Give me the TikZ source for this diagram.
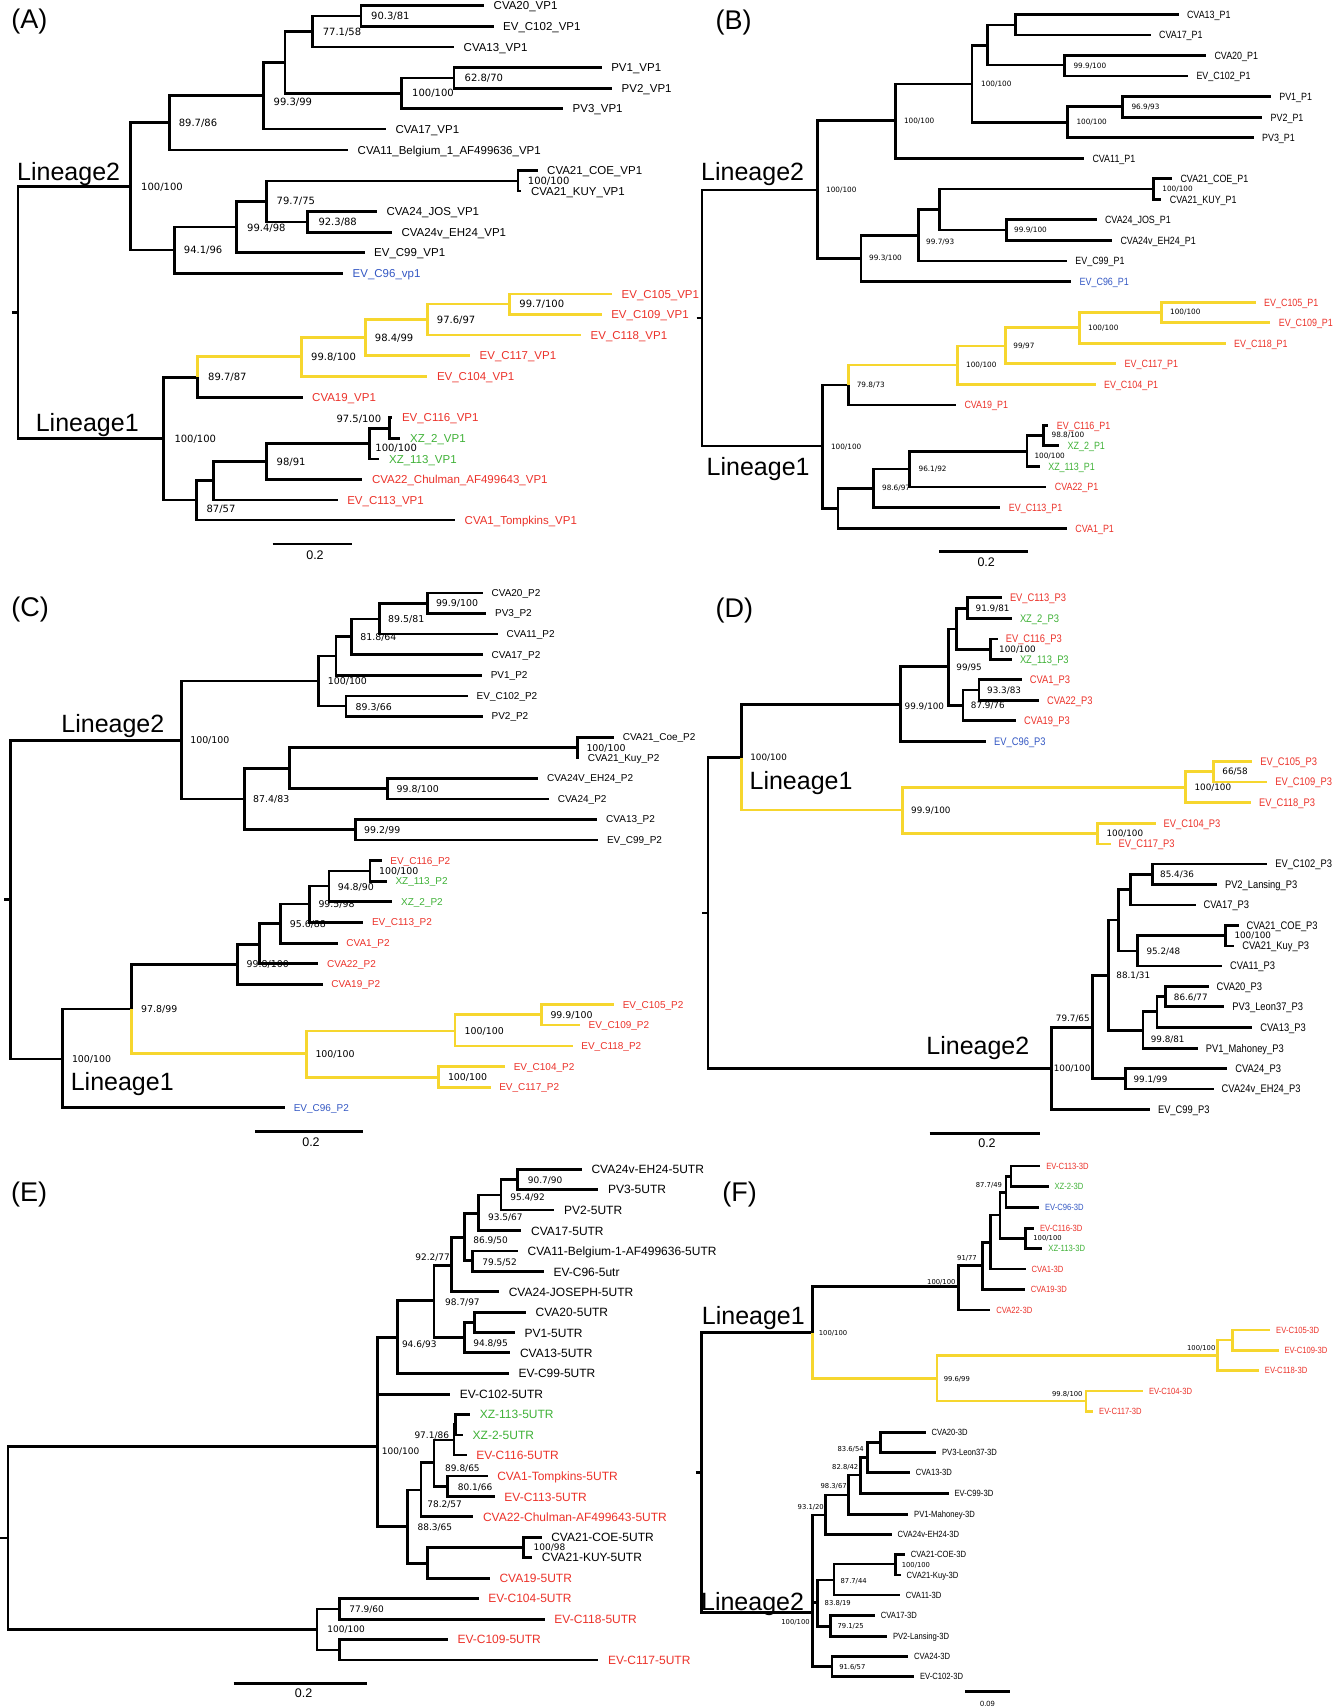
\documentclass[tikz,border=0pt]{standalone}
\usepackage{fontspec}
\setmainfont{Liberation Sans}
\newfontfamily\condfont[FakeStretch=0.85]{Liberation Sans}
\newfontfamily\bootfont{DejaVu Sans}

\definecolor{labred}{RGB}{236,50,42}
\definecolor{labgreen}{RGB}{64,178,56}
\definecolor{labblue}{RGB}{52,88,196}
\definecolor{cladeyellow}{RGB}{246,214,46}

\tikzset{
  br/.style={line width=2.7pt},
  ybr/.style={line width=2.7pt, draw=cladeyellow},
  tip/.style={anchor=west, inner ysep=0pt, text depth=0pt},
  bs/.style={anchor=west, inner sep=0pt, text depth=0pt},
  tipA/.style={tip, inner xsep=9.5pt, text height=8.2pt, font=\fontsize{11.5}{12}\selectfont},
  tipB/.style={tip, inner xsep=8.3pt, text height=7.5pt, font=\condfont\fontsize{10.5}{11}\selectfont},
  tipC/.style={tip, inner xsep=8.6pt, text height=7.2pt, font=\fontsize{10}{11}\selectfont},
  tipD/.style={tip, inner xsep=7.8pt, text height=7.9pt, font=\condfont\fontsize{11}{12}\selectfont},
  tipE/.style={tip, inner xsep=9.6pt, text height=8.6pt, font=\fontsize{12}{13}\selectfont},
  tipF/.style={tip, inner xsep=5.8pt, text height=6.4pt, font=\condfont\fontsize{9}{10}\selectfont},
  bsA/.style={bs, text height=7.3pt, font=\bootfont\fontsize{10}{11}\selectfont},
  bsB/.style={bs, text height=5.3pt, font=\bootfont\fontsize{7.3}{8}\selectfont},
  bsC/.style={bs, text height=6.9pt, font=\bootfont\fontsize{9.4}{10}\selectfont},
  bsD/.style={bs, text height=6.4pt, font=\bootfont\fontsize{8.8}{9}\selectfont},
  bsE/.style={bs, text height=6.6pt, font=\bootfont\fontsize{9}{10}\selectfont},
  bsF/.style={bs, text height=5pt, font=\bootfont\fontsize{6.8}{7}\selectfont},
  redlab/.style={text=labred},
  greenlab/.style={text=labgreen},
  bluelab/.style={text=labblue},
  lineage/.style={anchor=base west, inner sep=0pt, font=\fontsize{25}{26}\selectfont},
  paneltag/.style={anchor=base west, inner sep=0pt, font=\fontsize{27}{28}\selectfont},
  scalelab/.style={inner sep=0pt, text height=9pt, text depth=0pt, font=\fontsize{12.5}{13}\selectfont},
  scalebar/.style={line width=2.7pt}
}

\begin{document}
\begin{tikzpicture}[x=1pt, y=-1pt]
  \path[use as bounding box, fill=white] (0,0) rectangle (1333,1708);

  % ================= (A) VP1 =================
  \node[paneltag] (a-tag) at (11.3,28.3) {(A)};
  \node[lineage] (a-lin2) at (17,180) {Lineage2};
  \node[lineage] (a-lin1) at (35.6,431.7) {Lineage1};

  \coordinate (a-stub) at (12,312.7);
  \coordinate (a-root) at (18,312.7);
  \coordinate (a-l2) at (130.3,186.7);
  \coordinate (a-n1) at (169.6,122.7);
  \coordinate (a-n2) at (263.6,95.7);
  \coordinate (a-n3) at (285,62.3);
  \coordinate (a-n4) at (312.8,31.7);
  \coordinate (a-n5) at (361,16);
  \coordinate (a-n6) at (401.7,93.3);
  \coordinate (a-n7) at (454,78);
  \coordinate (a-n8) at (174.3,250);
  \coordinate (a-n9) at (236.7,227);
  \coordinate (a-n10) at (266.2,201.3);
  \coordinate (a-n11) at (518,181);
  \coordinate (a-n12) at (307.7,222);
  \coordinate (a-l1) at (163.7,438.7);
  \coordinate (a-n13) at (197.8,377.3);
  \coordinate (a-y1) at (301.2,356.7);
  \coordinate (a-y2) at (365.3,337.3);
  \coordinate (a-y3) at (427.3,319.3);
  \coordinate (a-y4) at (509.3,304);
  \coordinate (a-n17) at (196.6,500);
  \coordinate (a-n18) at (213.7,480.3);
  \coordinate (a-n19) at (266.6,461.7);
  \coordinate (a-n20) at (369.6,443.3);
  \coordinate (a-n21) at (389.7,428.3);

  \node[tipA] (a-cva20) at (484,5.7) {CVA20\_VP1};
  \node[tipA] (a-c102) at (493.5,26.3) {EV\_C102\_VP1};
  \node[tipA] (a-cva13) at (454,47) {CVA13\_VP1};
  \node[tipA] (a-pv1) at (601.6,67.7) {PV1\_VP1};
  \node[tipA] (a-pv2) at (612,88.3) {PV2\_VP1};
  \node[tipA] (a-pv3) at (563,108.3) {PV3\_VP1};
  \node[tipA] (a-cva17) at (385.8,129) {CVA17\_VP1};
  \node[tipA] (a-cva11) at (348,150) {CVA11\_Belgium\_1\_AF499636\_VP1};
  \node[tipA] (a-coe) at (537.5,170.7) {CVA21\_COE\_VP1};
  \node[tipA] (a-kuy) at (521.3,191) {CVA21\_KUY\_VP1};
  \node[tipA] (a-jos) at (376.9,211.7) {CVA24\_JOS\_VP1};
  \node[tipA] (a-eh24) at (391.8,232.3) {CVA24v\_EH24\_VP1};
  \node[tipA] (a-c99) at (364.5,252.7) {EV\_C99\_VP1};
  \node[tipA, bluelab] (a-c96) at (343,273.3) {EV\_C96\_vp1};
  \node[tipA, redlab] (a-c105) at (612,294) {EV\_C105\_VP1};
  \node[tipA, redlab] (a-c109) at (601.6,314.3) {EV\_C109\_VP1};
  \node[tipA, redlab] (a-c118) at (581,335) {EV\_C118\_VP1};
  \node[tipA, redlab] (a-c117) at (470,355.7) {EV\_C117\_VP1};
  \node[tipA, redlab] (a-c104) at (427.3,376.3) {EV\_C104\_VP1};
  \node[tipA, redlab] (a-cva19) at (302.5,397.3) {CVA19\_VP1};
  \node[tipA, redlab] (a-c116) at (392.3,417.3) {EV\_C116\_VP1};
  \node[tipA, greenlab] (a-xz2) at (400.4,438.3) {XZ\_2\_VP1};
  \node[tipA, greenlab] (a-xz113) at (379.4,459) {XZ\_113\_VP1};
  \node[tipA, redlab] (a-cva22) at (362.3,479.3) {CVA22\_Chulman\_AF499643\_VP1};
  \node[tipA, redlab] (a-c113) at (337.6,500) {EV\_C113\_VP1};
  \node[tipA, redlab] (a-cva1) at (455,520) {CVA1\_Tompkins\_VP1};

  \draw[br] (a-stub) -- (a-root);
  \draw[br] (a-root) |- (a-l2);
  \draw[br] (a-root) |- (a-l1);
  \draw[br] (a-l2) |- (a-n1);
  \draw[br] (a-l2) |- (a-n8);
  \draw[br] (a-n1) |- (a-n2);
  \draw[br] (a-n1) |- (a-cva11.west);
  \draw[br] (a-n2) |- (a-n3);
  \draw[br] (a-n2) |- (a-cva17.west);
  \draw[br] (a-n3) |- (a-n4);
  \draw[br] (a-n3) |- (a-n6);
  \draw[br] (a-n4) |- (a-n5);
  \draw[br] (a-n4) |- (a-cva13.west);
  \draw[br] (a-n5) |- (a-cva20.west);
  \draw[br] (a-n5) |- (a-c102.west);
  \draw[br] (a-n6) |- (a-n7);
  \draw[br] (a-n6) |- (a-pv3.west);
  \draw[br] (a-n7) |- (a-pv1.west);
  \draw[br] (a-n7) |- (a-pv2.west);
  \draw[br] (a-n8) |- (a-n9);
  \draw[br] (a-n8) |- (a-c96.west);
  \draw[br] (a-n9) |- (a-n10);
  \draw[br] (a-n9) |- (a-c99.west);
  \draw[br] (a-n10) |- (a-n11);
  \draw[br] (a-n10) |- (a-n12);
  \draw[br] (a-n11) |- (a-coe.west);
  \draw[br] (a-n11) |- (a-kuy.west);
  \draw[br] (a-n12) |- (a-jos.west);
  \draw[br] (a-n12) |- (a-eh24.west);
  \draw[br] (a-l1) |- (a-n13);
  \draw[br] (a-l1) |- (a-n17);
  \draw[ybr] (a-n13) |- (a-y1);
  \draw[br] (a-n13) |- (a-cva19.west);
  \draw[ybr] (a-y1) |- (a-y2);
  \draw[ybr] (a-y1) |- (a-c104.west);
  \draw[ybr] (a-y2) |- (a-y3);
  \draw[ybr] (a-y2) |- (a-c117.west);
  \draw[ybr] (a-y3) |- (a-y4);
  \draw[ybr] (a-y3) |- (a-c118.west);
  \draw[ybr] (a-y4) |- (a-c105.west);
  \draw[ybr] (a-y4) |- (a-c109.west);
  \draw[br] (a-n17) |- (a-n18);
  \draw[br] (a-n17) |- (a-cva1.west);
  \draw[br] (a-n18) |- (a-n19);
  \draw[br] (a-n18) |- (a-c113.west);
  \draw[br] (a-n19) |- (a-n20);
  \draw[br] (a-n19) |- (a-cva22.west);
  \draw[br] (a-n20) |- (a-n21);
  \draw[br] (a-n20) |- (a-xz113.west);
  \draw[br] (a-n21) |- (a-c116.west);
  \draw[br] (a-n21) |- (a-xz2.west);

  \node[bsA] (a-b1) at (371,16) {90.3/81};
  \node[bsA] (a-b2) at (322.6,31.7) {77.1/58};
  \node[bsA] (a-b3) at (464.5,78) {62.8/70};
  \node[bsA] (a-b4) at (412,93.3) {100/100};
  \node[bsA] (a-b5) at (273.5,102.3) {99.3/99};
  \node[bsA] (a-b6) at (178.6,123.3) {89.7/86};
  \node[bsA] (a-b7) at (141,186.7) {100/100};
  \node[bsA] (a-b8) at (527.7,181) {100/100};
  \node[bsA] (a-b9) at (276.5,201.3) {79.7/75};
  \node[bsA] (a-b10) at (318.3,222) {92.3/88};
  \node[bsA] (a-b11) at (247,227.7) {99.4/98};
  \node[bsA] (a-b12) at (183.7,250) {94.1/96};
  \node[bsA] (a-b13) at (519.2,304) {99.7/100};
  \node[bsA] (a-b14) at (436.7,320) {97.6/97};
  \node[bsA] (a-b15) at (374.7,338) {98.4/99};
  \node[bsA] (a-b16) at (311,357.3) {99.8/100};
  \node[bsA] (a-b17) at (208,377.3) {89.7/87};
  \node[bsA] (a-b18) at (336.3,419.3) {97.5/100};
  \node[bsA] (a-b19) at (174.3,439) {100/100};
  \node[bsA] (a-b20) at (375.2,447.7) {100/100};
  \node[bsA] (a-b21) at (276.5,461.7) {98/91};
  \node[bsA] (a-b22) at (206.4,509.3) {87/57};

  \coordinate (a-sc1) at (272.6,544);
  \coordinate (a-sc2) at (351.7,544);
  \draw[scalebar] (a-sc1) -- (a-sc2);
  \node[scalelab] (a-sclab) at (315,554.7) {0.2};

  % ================= (B) P1 =================
  \node[paneltag] (b-tag) at (715.5,29.3) {(B)};
  \node[lineage] (b-lin2) at (701,180.7) {Lineage2};
  \node[lineage] (b-lin1) at (706.5,475) {Lineage1};

  \coordinate (b-stub) at (696.5,318);
  \coordinate (b-root) at (702,318);
  \coordinate (b-l2) at (817.5,190);
  \coordinate (b-n1) at (895.2,120.7);
  \coordinate (b-n2) at (972,84);
  \coordinate (b-n3) at (987.5,45.7);
  \coordinate (b-n4) at (1015.4,25);
  \coordinate (b-n4b) at (1064.7,65);
  \coordinate (b-n5) at (1067.7,122.3);
  \coordinate (b-n6) at (1122.7,106.7);
  \coordinate (b-n7) at (860.9,258.3);
  \coordinate (b-n8) at (918.4,235.3);
  \coordinate (b-n9) at (939.4,209.3);
  \coordinate (b-n10) at (1153.6,189);
  \coordinate (b-n11) at (1006.4,230);
  \coordinate (b-l1) at (822.2,446);
  \coordinate (b-n12) at (848.8,385);
  \coordinate (b-y1) at (957.4,365);
  \coordinate (b-y2) at (1005.5,346);
  \coordinate (b-y3) at (1079.3,327.7);
  \coordinate (b-y4) at (1161.3,312.3);
  \coordinate (b-n17) at (838.1,508.7);
  \coordinate (b-n18) at (873.3,488.3);
  \coordinate (b-n19) at (909.8,469);
  \coordinate (b-n20) at (1027,451.3);
  \coordinate (b-n21) at (1043.3,435.3);

  \node[tipB] (b-cva13) at (1178.5,14.3) {CVA13\_P1};
  \node[tipB] (b-cva17) at (1150.6,35) {CVA17\_P1};
  \node[tipB] (b-cva20) at (1206,55.7) {CVA20\_P1};
  \node[tipB] (b-c102) at (1188,76) {EV\_C102\_P1};
  \node[tipB] (b-pv1) at (1270.8,96.7) {PV1\_P1};
  \node[tipB] (b-pv2) at (1262.2,117.3) {PV2\_P1};
  \node[tipB] (b-pv3) at (1253.6,137.7) {PV3\_P1};
  \node[tipB] (b-cva11) at (1084,158.3) {CVA11\_P1};
  \node[tipB] (b-coe) at (1172,178.7) {CVA21\_COE\_P1};
  \node[tipB] (b-kuy) at (1161.3,199.3) {CVA21\_KUY\_P1};
  \node[tipB] (b-jos) at (1096.5,219.7) {CVA24\_JOS\_P1};
  \node[tipB] (b-eh24) at (1112,240.3) {CVA24v\_EH24\_P1};
  \node[tipB] (b-c99) at (1066.9,261) {EV\_C99\_P1};
  \node[tipB, bluelab] (b-c96) at (1071.2,281.7) {EV\_C96\_P1};
  \node[tipB, redlab] (b-c105) at (1255.7,302.3) {EV\_C105\_P1};
  \node[tipB, redlab] (b-c109) at (1270.3,322.7) {EV\_C109\_P1};
  \node[tipB, redlab] (b-c118) at (1225.7,343.3) {EV\_C118\_P1};
  \node[tipB, redlab] (b-c117) at (1116.2,363.7) {EV\_C117\_P1};
  \node[tipB, redlab] (b-c104) at (1095.6,384.3) {EV\_C104\_P1};
  \node[tipB, redlab] (b-cva19) at (956,405) {CVA19\_P1};
  \node[tipB, redlab] (b-c116) at (1048.4,425.3) {EV\_C116\_P1};
  \node[tipB, greenlab] (b-xz2) at (1059.2,445.7) {XZ\_2\_P1};
  \node[tipB, greenlab] (b-xz113) at (1039.8,466.7) {XZ\_113\_P1};
  \node[tipB, redlab] (b-cva22) at (1046.3,487) {CVA22\_P1};
  \node[tipB, redlab] (b-c113) at (1000.4,507.7) {EV\_C113\_P1};
  \node[tipB, redlab] (b-cva1) at (1066.9,528.3) {CVA1\_P1};

  \draw[br] (b-stub) -- (b-root);
  \draw[br] (b-root) |- (b-l2);
  \draw[br] (b-root) |- (b-l1);
  \draw[br] (b-l2) |- (b-n1);
  \draw[br] (b-l2) |- (b-n7);
  \draw[br] (b-n1) |- (b-n2);
  \draw[br] (b-n1) |- (b-cva11.west);
  \draw[br] (b-n2) |- (b-n3);
  \draw[br] (b-n2) |- (b-n5);
  \draw[br] (b-n3) |- (b-n4);
  \draw[br] (b-n3) |- (b-n4b);
  \draw[br] (b-n4) |- (b-cva13.west);
  \draw[br] (b-n4) |- (b-cva17.west);
  \draw[br] (b-n4b) |- (b-cva20.west);
  \draw[br] (b-n4b) |- (b-c102.west);
  \draw[br] (b-n5) |- (b-n6);
  \draw[br] (b-n5) |- (b-pv3.west);
  \draw[br] (b-n6) |- (b-pv1.west);
  \draw[br] (b-n6) |- (b-pv2.west);
  \draw[br] (b-n7) |- (b-n8);
  \draw[br] (b-n7) |- (b-c96.west);
  \draw[br] (b-n8) |- (b-n9);
  \draw[br] (b-n8) |- (b-c99.west);
  \draw[br] (b-n9) |- (b-n10);
  \draw[br] (b-n9) |- (b-n11);
  \draw[br] (b-n10) |- (b-coe.west);
  \draw[br] (b-n10) |- (b-kuy.west);
  \draw[br] (b-n11) |- (b-jos.west);
  \draw[br] (b-n11) |- (b-eh24.west);
  \draw[br] (b-l1) |- (b-n12);
  \draw[br] (b-l1) |- (b-n17);
  \draw[ybr] (b-n12) |- (b-y1);
  \draw[br] (b-n12) |- (b-cva19.west);
  \draw[ybr] (b-y1) |- (b-y2);
  \draw[ybr] (b-y1) |- (b-c104.west);
  \draw[ybr] (b-y2) |- (b-y3);
  \draw[ybr] (b-y2) |- (b-c117.west);
  \draw[ybr] (b-y3) |- (b-y4);
  \draw[ybr] (b-y3) |- (b-c118.west);
  \draw[ybr] (b-y4) |- (b-c105.west);
  \draw[ybr] (b-y4) |- (b-c109.west);
  \draw[br] (b-n17) |- (b-n18);
  \draw[br] (b-n17) |- (b-cva1.west);
  \draw[br] (b-n18) |- (b-n19);
  \draw[br] (b-n18) |- (b-c113.west);
  \draw[br] (b-n19) |- (b-n20);
  \draw[br] (b-n19) |- (b-cva22.west);
  \draw[br] (b-n20) |- (b-n21);
  \draw[br] (b-n20) |- (b-xz113.west);
  \draw[br] (b-n21) |- (b-c116.west);
  \draw[br] (b-n21) |- (b-xz2.west);

  \node[bsB] (b-b1) at (826,190) {100/100};
  \node[bsB] (b-b2) at (903.8,121) {100/100};
  \node[bsB] (b-b3) at (981,84) {100/100};
  \node[bsB] (b-b4) at (1073.3,65.7) {99.9/100};
  \node[bsB] (b-b5) at (1076.3,122.3) {100/100};
  \node[bsB] (b-b6) at (1131.3,106.7) {96.9/93};
  \node[bsB] (b-b7) at (869,258.3) {99.3/100};
  \node[bsB] (b-b8) at (926,241.7) {99.7/93};
  \node[bsB] (b-b9) at (1162.2,189) {100/100};
  \node[bsB] (b-b10) at (1014,230) {99.9/100};
  \node[bsB] (b-b11) at (830.8,446.7) {100/100};
  \node[bsB] (b-b12) at (856.6,385) {79.8/73};
  \node[bsB] (b-b13) at (966,365) {100/100};
  \node[bsB] (b-b14) at (1013.2,346) {99/97};
  \node[bsB] (b-b15) at (1088,327.7) {100/100};
  \node[bsB] (b-b16) at (1169.9,312.3) {100/100};
  \node[bsB] (b-b17) at (881.9,488.3) {98.6/97};
  \node[bsB] (b-b18) at (918.4,469) {96.1/92};
  \node[bsB] (b-b19) at (1034.3,455.7) {100/100};
  \node[bsB] (b-b20) at (1051.4,435.3) {98.8/100};

  \coordinate (b-sc1) at (939,551.7);
  \coordinate (b-sc2) at (1028.3,551.7);
  \draw[scalebar] (b-sc1) -- (b-sc2);
  \node[scalelab] (b-sclab) at (986.2,562.3) {0.2};

  % ================= (C) P2 =================
  \node[paneltag] (c-tag) at (11.3,616.7) {(C)};
  \node[lineage] (c-lin2) at (61.2,732.3) {Lineage2};
  \node[lineage] (c-lin1) at (70.6,1090.7) {Lineage1};

  \coordinate (c-stub) at (4.3,899.7);
  \coordinate (c-root) at (10.7,899.7);
  \coordinate (c-l2) at (181.6,740.3);
  \coordinate (c-n1) at (318.3,681);
  \coordinate (c-n2) at (335.9,656);
  \coordinate (c-n3) at (351.7,636.7);
  \coordinate (c-n4) at (379.4,619);
  \coordinate (c-n5) at (427.3,603.3);
  \coordinate (c-n6) at (346.1,706);
  \coordinate (c-n7) at (244.4,799);
  \coordinate (c-n8) at (289.3,768.3);
  \coordinate (c-n9) at (577.7,747.7);
  \coordinate (c-n10) at (387.6,788.7);
  \coordinate (c-n11) at (355.5,829.7);
  \coordinate (c-l1) at (62.8,1059);
  \coordinate (c-n12) at (131.6,1009);
  \coordinate (c-n13) at (237.6,964.3);
  \coordinate (c-n14) at (259.8,944.3);
  \coordinate (c-n15) at (280.7,923.7);
  \coordinate (c-n16) at (309.8,904);
  \coordinate (c-n17) at (329,886);
  \coordinate (c-n18) at (370,871);
  \coordinate (c-y1) at (306.4,1053.3);
  \coordinate (c-y2) at (455,1031);
  \coordinate (c-y3) at (541.8,1014.7);
  \coordinate (c-y4) at (438.8,1077.3);

  \node[tipC] (c-cva20) at (482.8,593) {CVA20\_P2};
  \node[tipC] (c-pv3) at (486.3,613.3) {PV3\_P2};
  \node[tipC] (c-cva11) at (497.8,634) {CVA11\_P2};
  \node[tipC] (c-cva17) at (482.8,654.7) {CVA17\_P2};
  \node[tipC] (c-pv1) at (482,675.3) {PV1\_P2};
  \node[tipC] (c-c102) at (467.9,696) {EV\_C102\_P2};
  \node[tipC] (c-pv2) at (482.8,716.3) {PV2\_P2};
  \node[tipC] (c-coe) at (614,737.3) {CVA21\_Coe\_P2};
  \node[tipC] (c-kuy) at (579,757.7) {CVA21\_Kuy\_P2};
  \node[tipC] (c-eh24) at (538.4,778.3) {CVA24V\_EH24\_P2};
  \node[tipC] (c-cva24) at (549,799) {CVA24\_P2};
  \node[tipC] (c-cva13) at (597.4,819.3) {CVA13\_P2};
  \node[tipC] (c-c99) at (598.2,840) {EV\_C99\_P2};
  \node[tipC, redlab] (c-c116) at (381.6,860.7) {EV\_C116\_P2};
  \node[tipC, greenlab] (c-xz113) at (386.7,881.3) {XZ\_113\_P2};
  \node[tipC, greenlab] (c-xz2) at (392.3,901.7) {XZ\_2\_P2};
  \node[tipC, redlab] (c-c113) at (363.2,922.3) {EV\_C113\_P2};
  \node[tipC, redlab] (c-cva1) at (337.6,943.3) {CVA1\_P2};
  \node[tipC, redlab] (c-cva22) at (318.3,963.7) {CVA22\_P2};
  \node[tipC, redlab] (c-cva19) at (322.6,984.3) {CVA19\_P2};
  \node[tipC, redlab] (c-c105) at (614,1004.7) {EV\_C105\_P2};
  \node[tipC, redlab] (c-c109) at (579.8,1025) {EV\_C109\_P2};
  \node[tipC, redlab] (c-c118) at (572.6,1046) {EV\_C118\_P2};
  \node[tipC, redlab] (c-c104) at (505,1066.7) {EV\_C104\_P2};
  \node[tipC, redlab] (c-c117) at (490.5,1087.3) {EV\_C117\_P2};
  \node[tipC, bluelab] (c-c96) at (285,1107.7) {EV\_C96\_P2};

  \draw[br] (c-stub) -- (c-root);
  \draw[br] (c-root) |- (c-l2);
  \draw[br] (c-root) |- (c-l1);
  \draw[br] (c-l2) |- (c-n1);
  \draw[br] (c-l2) |- (c-n7);
  \draw[br] (c-n1) |- (c-n2);
  \draw[br] (c-n1) |- (c-n6);
  \draw[br] (c-n2) |- (c-n3);
  \draw[br] (c-n2) |- (c-pv1.west);
  \draw[br] (c-n3) |- (c-n4);
  \draw[br] (c-n3) |- (c-cva17.west);
  \draw[br] (c-n4) |- (c-n5);
  \draw[br] (c-n4) |- (c-cva11.west);
  \draw[br] (c-n5) |- (c-cva20.west);
  \draw[br] (c-n5) |- (c-pv3.west);
  \draw[br] (c-n6) |- (c-c102.west);
  \draw[br] (c-n6) |- (c-pv2.west);
  \draw[br] (c-n7) |- (c-n8);
  \draw[br] (c-n7) |- (c-n11);
  \draw[br] (c-n8) |- (c-n9);
  \draw[br] (c-n8) |- (c-n10);
  \draw[br] (c-n9) |- (c-coe.west);
  \draw[br] (c-n9) |- (c-kuy.west);
  \draw[br] (c-n10) |- (c-eh24.west);
  \draw[br] (c-n10) |- (c-cva24.west);
  \draw[br] (c-n11) |- (c-cva13.west);
  \draw[br] (c-n11) |- (c-c99.west);
  \draw[br] (c-l1) |- (c-n12);
  \draw[br] (c-l1) |- (c-c96.west);
  \draw[br] (c-n12) |- (c-n13);
  \draw[ybr] (c-n12) |- (c-y1);
  \draw[br] (c-n13) |- (c-n14);
  \draw[br] (c-n13) |- (c-cva19.west);
  \draw[br] (c-n14) |- (c-n15);
  \draw[br] (c-n14) |- (c-cva22.west);
  \draw[br] (c-n15) |- (c-n16);
  \draw[br] (c-n15) |- (c-cva1.west);
  \draw[br] (c-n16) |- (c-n17);
  \draw[br] (c-n16) |- (c-c113.west);
  \draw[br] (c-n17) |- (c-n18);
  \draw[br] (c-n17) |- (c-xz2.west);
  \draw[br] (c-n18) |- (c-c116.west);
  \draw[br] (c-n18) |- (c-xz113.west);
  \draw[ybr] (c-y1) |- (c-y2);
  \draw[ybr] (c-y1) |- (c-y4);
  \draw[ybr] (c-y2) |- (c-y3);
  \draw[ybr] (c-y2) |- (c-c118.west);
  \draw[ybr] (c-y3) |- (c-c105.west);
  \draw[ybr] (c-y3) |- (c-c109.west);
  \draw[ybr] (c-y4) |- (c-c104.west);
  \draw[ybr] (c-y4) |- (c-c117.west);

  \node[bsC] (c-b1) at (190.1,740.3) {100/100};
  \node[bsC] (c-b2) at (327.7,681.3) {100/100};
  \node[bsC] (c-b3) at (360.2,637.3) {81.8/64};
  \node[bsC] (c-b4) at (388,619) {89.5/81};
  \node[bsC] (c-b5) at (435.8,603.3) {99.9/100};
  \node[bsC] (c-b6) at (355.5,706.7) {89.3/66};
  \node[bsC] (c-b7) at (253,799.3) {87.4/83};
  \node[bsC] (c-b8) at (586.3,747.7) {100/100};
  \node[bsC] (c-b9) at (396.5,789) {99.8/100};
  \node[bsC] (c-b10) at (364,830) {99.2/99};
  \node[bsC] (c-b11) at (71.8,1059) {100/100};
  \node[bsC] (c-b12) at (141,1009.3) {97.8/99};
  \node[bsC] (c-b13) at (246.5,964.3) {99.8/100};
  \node[bsC] (c-b14) at (289.7,924) {95.6/88};
  \node[bsC] (c-b15) at (318.3,904.3) {99.5/98};
  \node[bsC] (c-b16) at (337.6,886.7) {94.8/90};
  \node[bsC] (c-b17) at (379,871) {100/100};
  \node[bsC] (c-b18) at (315.3,1054) {100/100};
  \node[bsC] (c-b19) at (464.5,1031) {100/100};
  \node[bsC] (c-b20) at (550.3,1015.3) {99.9/100};
  \node[bsC] (c-b21) at (447.8,1077.3) {100/100};

  \coordinate (c-sc1) at (255,1131.7);
  \coordinate (c-sc2) at (363.2,1131.7);
  \draw[scalebar] (c-sc1) -- (c-sc2);
  \node[scalelab] (c-sclab) at (311,1142.3) {0.2};

  % ================= (D) P3 =================
  \node[paneltag] (d-tag) at (715.5,617.7) {(D)};
  \node[lineage] (d-lin1) at (749.4,789.3) {Lineage1};
  \node[lineage] (d-lin2) at (926.2,1054.3) {Lineage2};

  \coordinate (d-stub) at (702,913);
  \coordinate (d-root) at (708,913);
  \coordinate (d-l1) at (741.5,757.7);
  \coordinate (d-n1) at (900.4,704.3);
  \coordinate (d-n2) at (948.4,666.7);
  \coordinate (d-n3) at (956.2,629);
  \coordinate (d-n4) at (967.7,608.3);
  \coordinate (d-n4b) at (990.5,649.3);
  \coordinate (d-n5) at (963,705.7);
  \coordinate (d-n6) at (978.9,690);
  \coordinate (d-y1) at (902.5,810);
  \coordinate (d-y2) at (1185.8,787.3);
  \coordinate (d-y3) at (1213.7,771.7);
  \coordinate (d-y4) at (1097.8,833.3);
  \coordinate (d-l2) at (1051.4,1068.3);
  \coordinate (d-n7) at (1092.6,1027.3);
  \coordinate (d-n8) at (1108.5,975.7);
  \coordinate (d-n9) at (1118.4,920);
  \coordinate (d-n10) at (1130.8,889.3);
  \coordinate (d-n10b) at (1152.3,874.3);
  \coordinate (d-n11) at (1137.7,951);
  \coordinate (d-n11b) at (1225.7,935.7);
  \coordinate (d-n12) at (1142.9,1030.7);
  \coordinate (d-n13) at (1157,1011.7);
  \coordinate (d-n13b) at (1165.6,996.7);
  \coordinate (d-n14) at (1125.7,1078.7);

  \node[tipD, redlab] (d-c113) at (1002,597.7) {EV\_C113\_P3};
  \node[tipD, greenlab] (d-xz2) at (1012,618.3) {XZ\_2\_P3};
  \node[tipD, redlab] (d-c116) at (997.8,639) {EV\_C116\_P3};
  \node[tipD, greenlab] (d-xz113) at (1012,659.3) {XZ\_113\_P3};
  \node[tipD, redlab] (d-cva1) at (1021.8,679.7) {CVA1\_P3};
  \node[tipD, redlab] (d-cva22) at (1039,700.3) {CVA22\_P3};
  \node[tipD, redlab] (d-cva19) at (1016.2,720.7) {CVA19\_P3};
  \node[tipD, bluelab] (d-c96) at (986.2,741.7) {EV\_C96\_P3};
  \node[tipD, redlab] (d-c105) at (1252.3,761.7) {EV\_C105\_P3};
  \node[tipD, redlab] (d-c109) at (1267.3,782) {EV\_C109\_P3};
  \node[tipD, redlab] (d-c118) at (1251,802.7) {EV\_C118\_P3};
  \node[tipD, redlab] (d-c104) at (1155.7,823.3) {EV\_C104\_P3};
  \node[tipD, redlab] (d-c117) at (1110.7,844) {EV\_C117\_P3};
  \node[tipD] (d-c102) at (1267.3,864) {EV\_C102\_P3};
  \node[tipD] (d-pv2) at (1217,884.3) {PV2\_Lansing\_P3};
  \node[tipD] (d-cva17) at (1195.6,905) {CVA17\_P3};
  \node[tipD] (d-coe) at (1238.6,925.3) {CVA21\_COE\_P3};
  \node[tipD] (d-kuy) at (1234.3,946) {CVA21\_Kuy\_P3};
  \node[tipD] (d-cva11) at (1222.2,966) {CVA11\_P3};
  \node[tipD] (d-cva20) at (1208.5,986.7) {CVA20\_P3};
  \node[tipD] (d-pv3) at (1224.4,1006.7) {PV3\_Leon37\_P3};
  \node[tipD] (d-cva13) at (1252.3,1027.3) {CVA13\_P3};
  \node[tipD] (d-pv1) at (1197.8,1048.3) {PV1\_Mahoney\_P3};
  \node[tipD] (d-cva24) at (1227.4,1068.7) {CVA24\_P3};
  \node[tipD] (d-eh24) at (1213.7,1089) {CVA24v\_EH24\_P3};
  \node[tipD] (d-c99) at (1150,1109.3) {EV\_C99\_P3};

  \draw[br] (d-stub) -- (d-root);
  \draw[br] (d-root) |- (d-l1);
  \draw[br] (d-root) |- (d-l2);
  \draw[br] (d-l1) |- (d-n1);
  \draw[ybr] (d-l1) |- (d-y1);
  \draw[br] (d-n1) |- (d-n2);
  \draw[br] (d-n1) |- (d-c96.west);
  \draw[br] (d-n2) |- (d-n3);
  \draw[br] (d-n2) |- (d-n5);
  \draw[br] (d-n3) |- (d-n4);
  \draw[br] (d-n3) |- (d-n4b);
  \draw[br] (d-n4) |- (d-c113.west);
  \draw[br] (d-n4) |- (d-xz2.west);
  \draw[br] (d-n4b) |- (d-c116.west);
  \draw[br] (d-n4b) |- (d-xz113.west);
  \draw[br] (d-n5) |- (d-n6);
  \draw[br] (d-n5) |- (d-cva19.west);
  \draw[br] (d-n6) |- (d-cva1.west);
  \draw[br] (d-n6) |- (d-cva22.west);
  \draw[ybr] (d-y1) |- (d-y2);
  \draw[ybr] (d-y1) |- (d-y4);
  \draw[ybr] (d-y2) |- (d-y3);
  \draw[ybr] (d-y2) |- (d-c118.west);
  \draw[ybr] (d-y3) |- (d-c105.west);
  \draw[ybr] (d-y3) |- (d-c109.west);
  \draw[ybr] (d-y4) |- (d-c104.west);
  \draw[ybr] (d-y4) |- (d-c117.west);
  \draw[br] (d-l2) |- (d-n7);
  \draw[br] (d-l2) |- (d-c99.west);
  \draw[br] (d-n7) |- (d-n8);
  \draw[br] (d-n7) |- (d-n14);
  \draw[br] (d-n8) |- (d-n9);
  \draw[br] (d-n8) |- (d-n12);
  \draw[br] (d-n9) |- (d-n10);
  \draw[br] (d-n9) |- (d-n11);
  \draw[br] (d-n10) |- (d-n10b);
  \draw[br] (d-n10) |- (d-cva17.west);
  \draw[br] (d-n10b) |- (d-c102.west);
  \draw[br] (d-n10b) |- (d-pv2.west);
  \draw[br] (d-n11) |- (d-n11b);
  \draw[br] (d-n11) |- (d-cva11.west);
  \draw[br] (d-n11b) |- (d-coe.west);
  \draw[br] (d-n11b) |- (d-kuy.west);
  \draw[br] (d-n12) |- (d-n13);
  \draw[br] (d-n12) |- (d-pv1.west);
  \draw[br] (d-n13) |- (d-n13b);
  \draw[br] (d-n13) |- (d-cva13.west);
  \draw[br] (d-n13b) |- (d-cva20.west);
  \draw[br] (d-n13b) |- (d-pv3.west);
  \draw[br] (d-n14) |- (d-cva24.west);
  \draw[br] (d-n14) |- (d-eh24.west);

  \node[bsD] (d-b1) at (750.1,757.7) {100/100};
  \node[bsD] (d-b2) at (904.5,706.7) {99.9/100};
  \node[bsD] (d-b3) at (956.2,667.3) {99/95};
  \node[bsD] (d-b4) at (975.5,608.3) {91.9/81};
  \node[bsD] (d-b5) at (999,649.3) {100/100};
  \node[bsD] (d-b6) at (970.7,705.7) {87.9/76};
  \node[bsD] (d-b7) at (987,690) {93.3/83};
  \node[bsD] (d-b8) at (911,810) {99.9/100};
  \node[bsD] (d-b9) at (1194.4,787.7) {100/100};
  \node[bsD] (d-b10) at (1222.2,771.7) {66/58};
  \node[bsD] (d-b11) at (1106.4,833.3) {100/100};
  \node[bsD] (d-b12) at (1053.6,1068.3) {100/100};
  \node[bsD] (d-b13) at (1055.7,1018.3) {79.7/65};
  \node[bsD] (d-b14) at (1133.4,1079) {99.1/99};
  \node[bsD] (d-b15) at (1116.2,975.7) {88.1/31};
  \node[bsD] (d-b16) at (1160,874.3) {85.4/36};
  \node[bsD] (d-b17) at (1146.3,951) {95.2/48};
  \node[bsD] (d-b18) at (1234.3,935.7) {100/100};
  \node[bsD] (d-b19) at (1150.6,1039.3) {99.8/81};
  \node[bsD] (d-b20) at (1173.7,997.3) {86.6/77};

  \coordinate (d-sc1) at (929.5,1133.3);
  \coordinate (d-sc2) at (1039.8,1133.3);
  \draw[scalebar] (d-sc1) -- (d-sc2);
  \node[scalelab] (d-sclab) at (987,1143.3) {0.2};

  % ================= (E) 5UTR =================
  \node[paneltag] (e-tag) at (11,1201.7) {(E)};

  \coordinate (e-stub) at (0,1538);
  \coordinate (e-root) at (8,1538);
  \coordinate (e-up) at (377.2,1446.7);
  \coordinate (e-n1) at (397.3,1337.3);
  \coordinate (e-n2) at (433.9,1300.7);
  \coordinate (e-n3) at (451.8,1265.7);
  \coordinate (e-n4) at (464.3,1237.3);
  \coordinate (e-n5) at (478.5,1213.3);
  \coordinate (e-n6) at (500.9,1195);
  \coordinate (e-n6b) at (517.8,1179.3);
  \coordinate (e-n7) at (472.3,1260.7);
  \coordinate (e-n8) at (464.3,1337.7);
  \coordinate (e-n9) at (474.5,1322.7);
  \coordinate (e-n10) at (407.6,1526.7);
  \coordinate (e-n11) at (421,1490);
  \coordinate (e-n12) at (433.9,1462.7);
  \coordinate (e-n13) at (454,1440);
  \coordinate (e-n13b) at (455.5,1424.7);
  \coordinate (e-n14) at (447.3,1486.7);
  \coordinate (e-n15) at (427.2,1563.3);
  \coordinate (e-n16) at (523.6,1547.3);
  \coordinate (e-lo) at (317,1629.3);
  \coordinate (e-n17) at (339.3,1609);
  \coordinate (e-n18) at (339.3,1650);

  \node[tipE] (e-eh24) at (581.7,1169.3) {CVA24v-EH24-5UTR};
  \node[tipE] (e-pv3) at (598.2,1189.3) {PV3-5UTR};
  \node[tipE] (e-pv2) at (554.4,1210) {PV2-5UTR};
  \node[tipE] (e-cva17) at (521.4,1230.7) {CVA17-5UTR};
  \node[tipE] (e-cva11) at (517.8,1251) {CVA11-Belgium-1-AF499636-5UTR};
  \node[tipE] (e-c96) at (543.7,1271.7) {EV-C96-5utr};
  \node[tipE] (e-jos) at (499,1291.7) {CVA24-JOSEPH-5UTR};
  \node[tipE] (e-cva20) at (525.9,1312.3) {CVA20-5UTR};
  \node[tipE] (e-pv1) at (514.7,1332.7) {PV1-5UTR};
  \node[tipE] (e-cva13) at (510.2,1352.7) {CVA13-5UTR};
  \node[tipE] (e-c99) at (508.9,1373.3) {EV-C99-5UTR};
  \node[tipE] (e-c102) at (450,1394.3) {EV-C102-5UTR};
  \node[tipE, greenlab] (e-xz113) at (470,1414.3) {XZ-113-5UTR};
  \node[tipE, greenlab] (e-xz2) at (462.9,1435) {XZ-2-5UTR};
  \node[tipE, redlab] (e-c116) at (466.5,1455) {EV-C116-5UTR};
  \node[tipE, redlab] (e-cva1) at (487.5,1476) {CVA1-Tompkins-5UTR};
  \node[tipE, redlab] (e-c113) at (494.6,1496.7) {EV-C113-5UTR};
  \node[tipE, redlab] (e-cva22) at (473.2,1516.7) {CVA22-Chulman-AF499643-5UTR};
  \node[tipE] (e-coe) at (541.5,1537.3) {CVA21-COE-5UTR};
  \node[tipE] (e-kuy) at (532.1,1557.3) {CVA21-KUY-5UTR};
  \node[tipE, redlab] (e-cva19) at (489.7,1578.3) {CVA19-5UTR};
  \node[tipE, redlab] (e-c104) at (478.5,1598.3) {EV-C104-5UTR};
  \node[tipE, redlab] (e-c118) at (544.6,1619.3) {EV-C118-5UTR};
  \node[tipE, redlab] (e-c109) at (447.7,1639.3) {EV-C109-5UTR};
  \node[tipE, redlab] (e-c117) at (598.2,1660) {EV-C117-5UTR};

  \draw[br] (e-stub) -- (e-root);
  \draw[br] (e-root) |- (e-up);
  \draw[br] (e-root) |- (e-lo);
  \draw[br] (e-up) |- (e-n1);
  \draw[br] (e-up) |- (e-c102.west);
  \draw[br] (e-up) |- (e-n10);
  \draw[br] (e-n1) |- (e-n2);
  \draw[br] (e-n1) |- (e-c99.west);
  \draw[br] (e-n2) |- (e-n3);
  \draw[br] (e-n2) |- (e-n8);
  \draw[br] (e-n3) |- (e-n4);
  \draw[br] (e-n3) |- (e-jos.west);
  \draw[br] (e-n4) |- (e-n5);
  \draw[br] (e-n4) |- (e-n7);
  \draw[br] (e-n5) |- (e-n6);
  \draw[br] (e-n5) |- (e-cva17.west);
  \draw[br] (e-n6) |- (e-n6b);
  \draw[br] (e-n6) |- (e-pv2.west);
  \draw[br] (e-n6b) |- (e-eh24.west);
  \draw[br] (e-n6b) |- (e-pv3.west);
  \draw[br] (e-n7) |- (e-cva11.west);
  \draw[br] (e-n7) |- (e-c96.west);
  \draw[br] (e-n8) |- (e-n9);
  \draw[br] (e-n8) |- (e-cva13.west);
  \draw[br] (e-n9) |- (e-cva20.west);
  \draw[br] (e-n9) |- (e-pv1.west);
  \draw[br] (e-n10) |- (e-n11);
  \draw[br] (e-n10) |- (e-n15);
  \draw[br] (e-n11) |- (e-n12);
  \draw[br] (e-n11) |- (e-cva22.west);
  \draw[br] (e-n12) |- (e-n13);
  \draw[br] (e-n12) |- (e-n14);
  \draw[br] (e-n13) |- (e-n13b);
  \draw[br] (e-n13) |- (e-c116.west);
  \draw[br] (e-n13b) |- (e-xz113.west);
  \draw[br] (e-n13b) |- (e-xz2.west);
  \draw[br] (e-n14) |- (e-cva1.west);
  \draw[br] (e-n14) |- (e-c113.west);
  \draw[br] (e-n15) |- (e-n16);
  \draw[br] (e-n15) |- (e-cva19.west);
  \draw[br] (e-n16) |- (e-coe.west);
  \draw[br] (e-n16) |- (e-kuy.west);
  \draw[br] (e-lo) |- (e-n17);
  \draw[br] (e-lo) |- (e-n18);
  \draw[br] (e-n17) |- (e-c104.west);
  \draw[br] (e-n17) |- (e-c118.west);
  \draw[br] (e-n18) |- (e-c109.west);
  \draw[br] (e-n18) |- (e-c117.west);

  \node[bsE] (e-b1) at (381.7,1450.7) {100/100};
  \node[bsE] (e-b2) at (401.8,1344) {94.6/93};
  \node[bsE] (e-b3) at (415.2,1257.3) {92.2/77};
  \node[bsE] (e-b4) at (445,1301.7) {98.7/97};
  \node[bsE] (e-b5) at (473.2,1239.7) {86.9/50};
  \node[bsE] (e-b6) at (487.9,1217.3) {93.5/67};
  \node[bsE] (e-b7) at (510.2,1197.3) {95.4/92};
  \node[bsE] (e-b8) at (527.7,1180) {90.7/90};
  \node[bsE] (e-b9) at (482.1,1261.7) {79.5/52};
  \node[bsE] (e-b10) at (473.2,1342.7) {94.8/95};
  \node[bsE] (e-b11) at (417.4,1526.7) {88.3/65};
  \node[bsE] (e-b12) at (427.2,1504.3) {78.2/57};
  \node[bsE] (e-b13) at (445,1467.7) {89.8/65};
  \node[bsE] (e-b14) at (414.3,1434.7) {97.1/86};
  \node[bsE] (e-b15) at (457.6,1486.7) {80.1/66};
  \node[bsE] (e-b16) at (533.5,1547.3) {100/98};
  \node[bsE] (e-b17) at (327.2,1629.3) {100/100};
  \node[bsE] (e-b18) at (349.1,1609) {77.9/60};

  \coordinate (e-sc1) at (233.5,1683.3);
  \coordinate (e-sc2) at (367,1683.3);
  \draw[scalebar] (e-sc1) -- (e-sc2);
  \node[scalelab] (e-sclab) at (303.6,1692.7) {0.2};

  % ================= (F) 3D =================
  \node[paneltag] (f-tag) at (722.2,1201.7) {(F)};
  \node[lineage] (f-lin1) at (701.7,1324) {Lineage1};
  \node[lineage] (f-lin2) at (700.9,1610) {Lineage2};

  \coordinate (f-stub) at (695.8,1472.7);
  \coordinate (f-root) at (701.7,1472.7);
  \coordinate (f-l1) at (812.4,1332.7);
  \coordinate (f-n1) at (958.2,1286.7);
  \coordinate (f-n2) at (982.8,1265.7);
  \coordinate (f-n3) at (990.3,1242.7);
  \coordinate (f-n4) at (999.9,1215);
  \coordinate (f-n5) at (1006.1,1192.7);
  \coordinate (f-n6) at (1011.1,1176.7);
  \coordinate (f-n7) at (1025.7,1238.3);
  \coordinate (f-y1) at (937,1378.3);
  \coordinate (f-y2) at (1217.3,1355.7);
  \coordinate (f-y3) at (1232.7,1340);
  \coordinate (f-y4) at (1086.1,1401);
  \coordinate (f-l2) at (812.4,1612.7);
  \coordinate (f-n8) at (825.8,1515);
  \coordinate (f-n9) at (848.7,1495);
  \coordinate (f-n10) at (860.3,1475);
  \coordinate (f-n10b) at (867.4,1457.7);
  \coordinate (f-n10c) at (880.8,1442.7);
  \coordinate (f-n11) at (817.4,1602.7);
  \coordinate (f-n12) at (834.1,1580);
  \coordinate (f-n12b) at (895.3,1564);
  \coordinate (f-n13) at (830.8,1626.7);
  \coordinate (f-n14) at (832,1666.7);

  \node[tipF, redlab] (f-c113) at (1040.3,1166) {EV-C113-3D};
  \node[tipF, greenlab] (f-xz2) at (1048.6,1186.7) {XZ-2-3D};
  \node[tipF, bluelab] (f-c96) at (1039,1207.3) {EV-C96-3D};
  \node[tipF, redlab] (f-c116) at (1034,1228.3) {EV-C116-3D};
  \node[tipF, greenlab] (f-xz113) at (1042.4,1248.3) {XZ-113-3D};
  \node[tipF, redlab] (f-cva1) at (1025.7,1269) {CVA1-3D};
  \node[tipF, redlab] (f-cva19) at (1024.9,1289.3) {CVA19-3D};
  \node[tipF, redlab] (f-cva22) at (990.3,1310) {CVA22-3D};
  \node[tipF, redlab] (f-c105) at (1270.2,1330) {EV-C105-3D};
  \node[tipF, redlab] (f-c109) at (1278.5,1350.3) {EV-C109-3D};
  \node[tipF, redlab] (f-c118) at (1258.9,1370.7) {EV-C118-3D};
  \node[tipF, redlab] (f-c104) at (1143.1,1391) {EV-C104-3D};
  \node[tipF, redlab] (f-c117) at (1093.2,1411.7) {EV-C117-3D};
  \node[tipF] (f-cva20) at (925.7,1432.7) {CVA20-3D};
  \node[tipF] (f-pv3) at (936.1,1452.7) {PV3-Leon37-3D};
  \node[tipF] (f-cva13) at (909.9,1472.7) {CVA13-3D};
  \node[tipF] (f-c99) at (948.6,1493.3) {EV-C99-3D};
  \node[tipF] (f-pv1) at (908.2,1514.3) {PV1-Mahoney-3D};
  \node[tipF] (f-eh24) at (891.6,1534.3) {CVA24v-EH24-3D};
  \node[tipF] (f-coe) at (904.9,1554.3) {CVA21-COE-3D};
  \node[tipF] (f-kuy) at (900.7,1575) {CVA21-Kuy-3D};
  \node[tipF] (f-cva11) at (899.9,1595) {CVA11-3D};
  \node[tipF] (f-cva17) at (874.9,1615.7) {CVA17-3D};
  \node[tipF] (f-pv2) at (887,1636.7) {PV2-Lansing-3D};
  \node[tipF] (f-cva24) at (908.2,1656.7) {CVA24-3D};
  \node[tipF] (f-c102) at (914.1,1676.7) {EV-C102-3D};

  \draw[br] (f-stub) -- (f-root);
  \draw[br] (f-root) |- (f-l1);
  \draw[br] (f-root) |- (f-l2);
  \draw[br] (f-l1) |- (f-n1);
  \draw[ybr] (f-l1) |- (f-y1);
  \draw[br] (f-n1) |- (f-n2);
  \draw[br] (f-n1) |- (f-cva22.west);
  \draw[br] (f-n2) |- (f-n3);
  \draw[br] (f-n2) |- (f-cva19.west);
  \draw[br] (f-n3) |- (f-n4);
  \draw[br] (f-n3) |- (f-cva1.west);
  \draw[br] (f-n4) |- (f-n5);
  \draw[br] (f-n4) |- (f-n7);
  \draw[br] (f-n5) |- (f-n6);
  \draw[br] (f-n5) |- (f-c96.west);
  \draw[br] (f-n6) |- (f-c113.west);
  \draw[br] (f-n6) |- (f-xz2.west);
  \draw[br] (f-n7) |- (f-c116.west);
  \draw[br] (f-n7) |- (f-xz113.west);
  \draw[ybr] (f-y1) |- (f-y2);
  \draw[ybr] (f-y1) |- (f-y4);
  \draw[ybr] (f-y2) |- (f-y3);
  \draw[ybr] (f-y2) |- (f-c118.west);
  \draw[ybr] (f-y3) |- (f-c105.west);
  \draw[ybr] (f-y3) |- (f-c109.west);
  \draw[ybr] (f-y4) |- (f-c104.west);
  \draw[ybr] (f-y4) |- (f-c117.west);
  \draw[br] (f-l2) |- (f-n8);
  \draw[br] (f-l2) |- (f-n11);
  \draw[br] (f-l2) |- (f-n14);
  \draw[br] (f-n8) |- (f-n9);
  \draw[br] (f-n8) |- (f-eh24.west);
  \draw[br] (f-n9) |- (f-n10);
  \draw[br] (f-n9) |- (f-pv1.west);
  \draw[br] (f-n10) |- (f-n10b);
  \draw[br] (f-n10) |- (f-c99.west);
  \draw[br] (f-n10b) |- (f-n10c);
  \draw[br] (f-n10b) |- (f-cva13.west);
  \draw[br] (f-n10c) |- (f-cva20.west);
  \draw[br] (f-n10c) |- (f-pv3.west);
  \draw[br] (f-n11) |- (f-n12);
  \draw[br] (f-n11) |- (f-n13);
  \draw[br] (f-n12) |- (f-n12b);
  \draw[br] (f-n12) |- (f-cva11.west);
  \draw[br] (f-n12b) |- (f-coe.west);
  \draw[br] (f-n12b) |- (f-kuy.west);
  \draw[br] (f-n13) |- (f-cva17.west);
  \draw[br] (f-n13) |- (f-pv2.west);
  \draw[br] (f-n14) |- (f-cva24.west);
  \draw[br] (f-n14) |- (f-c102.west);

  \node[bsF] (f-b1) at (818.7,1333.3) {100/100};
  \node[bsF] (f-b2) at (927,1281.7) {100/100};
  \node[bsF] (f-b3) at (957,1258.3) {91/77};
  \node[bsF] (f-b4) at (975.7,1185) {87.7/49};
  \node[bsF] (f-b5) at (1033.2,1238.3) {100/100};
  \node[bsF] (f-b6) at (943.6,1379) {99.6/99};
  \node[bsF] (f-b7) at (1186.9,1348.3) {100/100};
  \node[bsF] (f-b8) at (1051.9,1394.3) {99.8/100};
  \node[bsF] (f-b9) at (781.2,1622.3) {100/100};
  \node[bsF] (f-b10) at (797.5,1506.7) {93.1/20};
  \node[bsF] (f-b11) at (820.4,1486) {98.3/67};
  \node[bsF] (f-b12) at (832,1466.7) {82.8/42};
  \node[bsF] (f-b13) at (837.4,1449.3) {83.6/54};
  \node[bsF] (f-b14) at (824.5,1603.3) {83.8/19};
  \node[bsF] (f-b15) at (840.4,1580.7) {87.7/44};
  \node[bsF] (f-b16) at (901.6,1565) {100/100};
  \node[bsF] (f-b17) at (837.4,1626) {79.1/25};
  \node[bsF] (f-b18) at (839.1,1667.3) {91.6/57};

  \coordinate (f-sc1) at (965.3,1691.7);
  \coordinate (f-sc2) at (1009.9,1691.7);
  \draw[scalebar] (f-sc1) -- (f-sc2);
  \node[scalelab, text height=5.4pt, font=\fontsize{7.5}{8}\selectfont] (f-sclab) at (987.4,1703.3) {0.09};
\end{tikzpicture}
\end{document}
